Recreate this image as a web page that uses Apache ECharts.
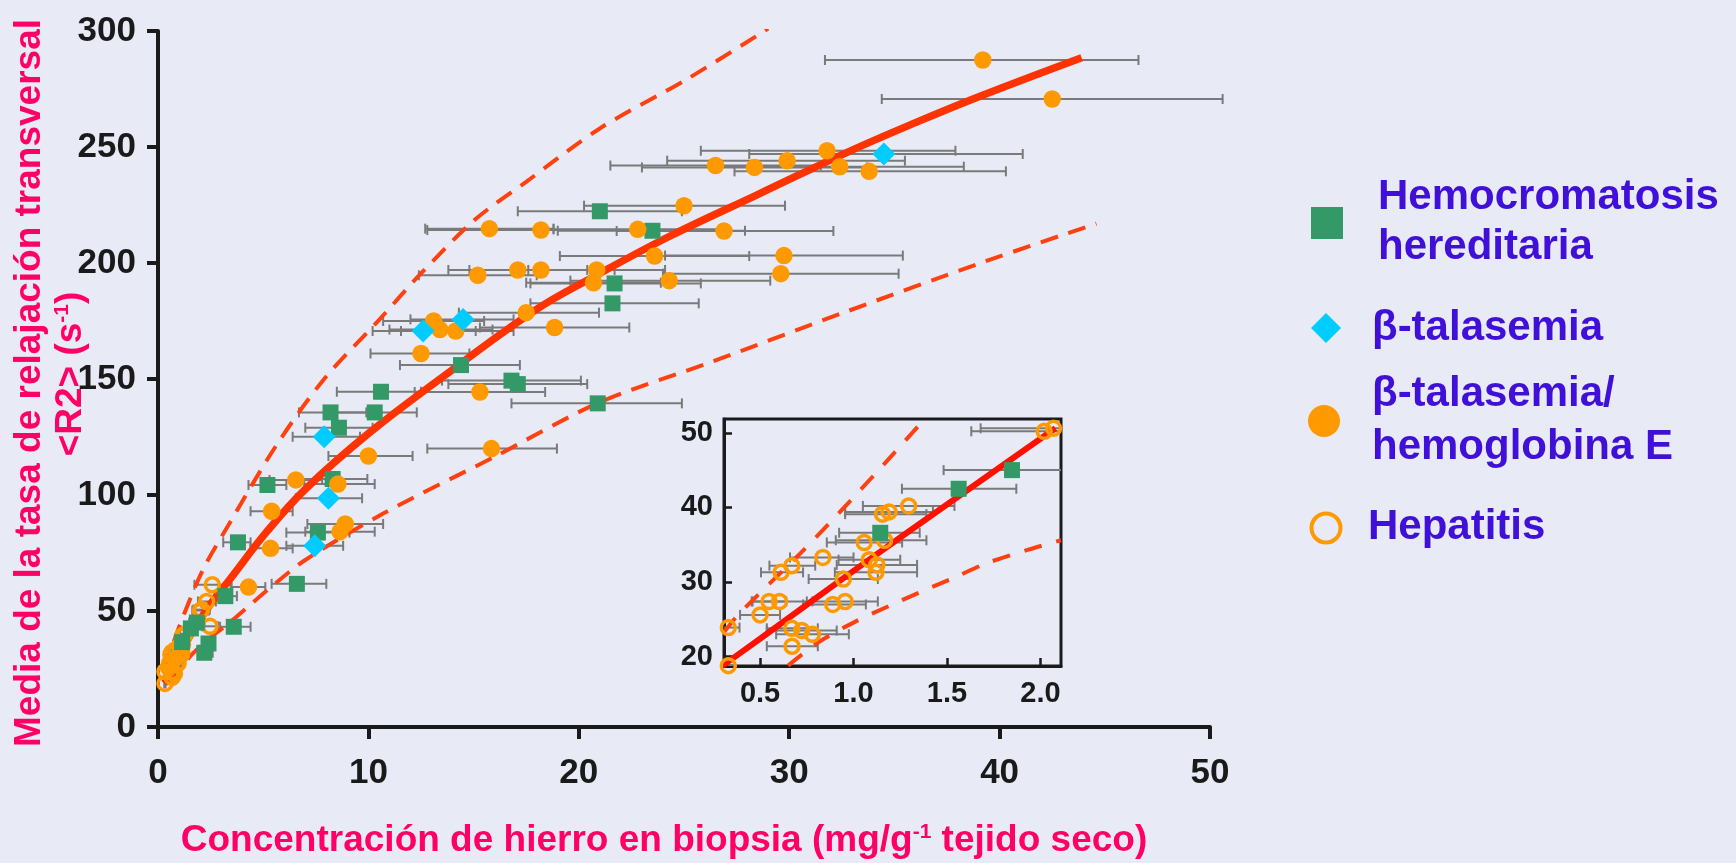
<!DOCTYPE html>
<html>
<head>
<meta charset="utf-8">
<script src="https://cdn.jsdelivr.net/npm/echarts@6/dist/echarts.min.js"></script>
<style>
html,body{margin:0;padding:0;background:#e8ebf6;}
#c{width:1736px;height:863px;}
</style>
</head>
<body>
<div id="c"></div>
<script>
// ---------- DATA (x, y, errorLow, errorHigh) ----------
const hemoMain = [
  [21.0,222.3,17.1,24.9],[23.5,213.9,19.0,27.9],[21.7,191.2,17.7,25.8],[21.6,182.6,17.7,25.7],
  [14.4,156.0,11.5,17.2],[16.8,149.3,13.5,20.1],[17.1,147.8,13.8,20.4],[20.9,139.5,16.8,24.9],
  [10.6,144.5,8.5,12.5],[8.2,135.6,6.7,9.9],[10.3,135.6,8.5,12.3],[8.6,129.0,7.0,10.2],
  [5.2,104.3,4.3,6.1],[8.3,106.9,6.7,9.95],[7.6,83.8,6.1,9.1],[3.8,79.6,3.1,4.4],
  [6.6,61.7,5.4,8.0],[3.2,56.4,2.7,3.75],[3.6,43.2,2.95,4.4],[2.4,36.0,2.1,2.7],[2.2,32.0,1.9,2.6]
];
const hemoInset = [[1.143,36.6,0.923,1.354],[1.5625,42.5,1.259,1.871],[1.848,45.0,1.482,2.21]];
const betaTal = [
  [34.5,247.0,28.1,41.1],[14.5,175.7,12.0,16.9],[12.6,170.7,10.2,15.1],
  [7.9,125.1,6.4,9.6],[8.1,98.6,6.55,9.7],[7.45,78.1,6.1,8.8]
];
const betaHbE = [
  [39.2,287.5,31.7,46.6],[42.5,270.7,34.4,50.6],[31.8,248.4,25.8,37.9],[26.5,242.0,21.5,31.5],
  [28.35,241.2,23.0,33.7],[29.9,244.1,24.2,35.5],[32.4,241.5,26.4,38.3],[33.8,239.5,27.4,40.3],
  [25.0,224.7,20.25,29.8],[15.75,214.8,12.7,18.8],[18.2,214.2,12.8,23.6],[22.8,214.5,18.8,26.8],
  [26.9,213.8,21.8,32.1],[23.6,203.0,19.1,28.1],[29.75,203.2,24.1,35.4],[15.2,194.7,12.4,18.0],
  [17.1,197.0,13.8,20.4],[18.2,197.0,14.8,21.7],[20.85,197.0,17.6,24.1],[20.7,191.5,17.5,23.9],
  [24.3,192.4,19.6,29.1],[29.6,195.4,24.0,35.2],[17.5,178.6,14.3,20.96],[13.1,175.0,10.7,15.5],
  [13.4,171.3,11.0,15.9],[14.15,170.7,11.55,16.9],[18.85,172.2,15.3,22.4],[12.5,161.0,10.1,14.8],
  [15.3,144.4,12.2,18.4],[15.85,120.0,12.8,18.96],[10.0,116.8,8.1,12.1],[6.55,106.5,5.3,7.8],
  [8.55,104.7,6.95,10.3],[5.4,93.0,4.4,6.4],[8.9,87.5,7.1,10.7],[8.65,84.2,7.0,10.3],
  [5.35,77.0,4.4,6.4],[4.3,60.3,3.5,5.1]
];
const hepMain = [[2.58,61.3,1.73,3.45],[2.31,54.1,1.9,2.75],[2.47,43.4,2.1,2.85]];
const hepInset = [
  [2.02,50.2,1.63,2.42],[2.07,50.6,1.68,2.46],[1.295,40.2,1.05,1.54],[1.155,39.1,0.955,1.39],
  [1.19,39.4,0.955,1.425],[1.057,35.3,0.857,1.26],[1.166,35.6,0.905,1.39],[1.084,33.0,0.92,1.25],
  [1.125,32.3,0.91,1.34],[1.12,31.3,0.9,1.34],[0.836,33.3,0.66,1.0],[0.67,32.2,0.55,0.795],
  [0.612,31.3,0.505,0.73],[0.946,30.4,0.76,1.13],[0.548,27.4,0.455,0.64],[0.604,27.4,0.46,0.75],
  [0.889,27.0,0.73,1.066],[0.955,27.4,0.78,1.13],[0.5,25.6,0.393,0.607],[0.33,23.9,0.3,0.39],
  [0.67,23.8,0.536,0.809],[0.723,23.5,0.536,0.91],[0.78,23.0,0.586,0.975],[0.671,21.4,0.536,0.809],
  [0.33,18.8,0.3,0.36]
];
// calibration curve and limits
const fitMain = [[0.3,18.8],[0.5,21.5],[1,31],[1.6,40.5],[2.5,53],[3.4,63.5],[5.2,84.5],[7,102.5],[10,126.5],
  [13.4,150],[17.9,179.5],[20.8,194.5],[24.2,211],[28.5,229.5],[32.7,247.5],[36,260.5],[39.1,272],[43.9,288.5]];
const upperMain = [[0.3,25],[1.04,44],[2.13,67.7],[3.4,87.8],[5.58,120.8],[7.86,149.6],[10.5,175.4],
  [12.5,195.5],[15.04,218.5],[17.5,235],[21.0,258],[25.08,278.9],[29.0,301]];
const lowerMain = [[0.65,19],[1.2,27],[2.1,35.6],[3.4,45],[5.2,59],[7.0,72],[10.7,92],[16,116.5],
  [21,140],[26.35,157.5],[32.7,179],[39.1,200],[44.6,217]];
const fitInset = [[0.3,18.8],[0.5,22.4],[1.0,31.5],[1.5,40.4],[2.08,50.6]];
const upperInset = [[0.307,23.3],[0.39,25.8],[0.714,33.8],[0.92,39.2],[1.16,45.7],[1.375,51.7]];
const lowerInset = [[0.65,18.8],[0.81,21.9],[1.01,24.7],[1.2,26.9],[1.38,28.9],[1.54,30.6],[1.71,32.5],[1.93,34.3],[2.11,35.6]];
const mainX = {min:0, max:50, interval:10};
const mainY = {min:0, max:300, interval:50};
const insetX = {min:0.307, max:2.11, step:0.5};
const insetY = {min:18.75, max:51.85, step:10};
const legendNames = ['Hemocromatosis', 'hereditaria', 'β-talasemia', 'β-talasemia/', 'hemoglobina E', 'Hepatitis'];

// ---------- STYLE ----------
const FONT = '"Liberation Sans", Arial, sans-serif';
const GREEN = '#339966', CYAN = '#00ccff', ORANGE = '#ff9900', INK = '#1a1a1a', PINK = '#ff0066', BLUE = '#4010d8';
const BG = '#e8ebf6';

function errRender(params, api) {
  const y = api.value(1);
  const p1 = api.coord([api.value(2), y]);
  const p2 = api.coord([api.value(3), y]);
  const h = 5;
  const st = {stroke: '#7a7a7a', lineWidth: 2};
  return {type: 'group', children: [
    {type: 'line', shape: {x1: p1[0], y1: p1[1], x2: p2[0], y2: p2[1]}, style: st},
    {type: 'line', shape: {x1: p1[0], y1: p1[1] - h, x2: p1[0], y2: p1[1] + h}, style: st},
    {type: 'line', shape: {x1: p2[0], y1: p2[1] - h, x2: p2[0], y2: p2[1] + h}, style: st}
  ]};
}

const mainLabel = {fontFamily: FONT, fontWeight: 'bold', fontSize: 35, color: INK};
const insetLabel = {fontFamily: FONT, fontWeight: 'bold', fontSize: 29, color: INK};

const option = {
  backgroundColor: BG,
  animation: false,
  grid: [
    {left: 158, top: 31, width: 1052, height: 696, show: false},
    {left: 724, top: 419, width: 337, height: 247, show: true, borderColor: INK, borderWidth: 3, backgroundColor: BG, z: 5}
  ],
  xAxis: [
    {gridIndex: 0, type: 'value', min: mainX.min, max: mainX.max, interval: mainX.interval,
      axisLine: {onZero: false, lineStyle: {color: INK, width: 4}},
      axisTick: {length: 12, lineStyle: {color: INK, width: 4}},
      axisLabel: Object.assign({margin: 29}, mainLabel), splitLine: {show: false}},
    {gridIndex: 1, type: 'value', min: insetX.min, max: insetX.max, minInterval: insetX.step, maxInterval: insetX.step, splitNumber: 4,
      axisLine: {onZero: false, lineStyle: {color: INK, width: 3}},
      axisTick: {inside: true, length: 8, lineStyle: {color: INK, width: 2.5}},
      axisLabel: Object.assign({margin: 13, showMinLabel: false, showMaxLabel: false, formatter: v => v.toFixed(1)}, insetLabel),
      splitLine: {show: false}, z: 6}
  ],
  yAxis: [
    {gridIndex: 0, type: 'value', min: mainY.min, max: mainY.max, interval: mainY.interval,
      axisLine: {show: true, onZero: false, lineStyle: {color: INK, width: 4}},
      axisTick: {show: true, length: 11, lineStyle: {color: INK, width: 4}},
      axisLabel: Object.assign({margin: 22}, mainLabel), splitLine: {show: false}},
    {gridIndex: 1, type: 'value', min: insetY.min, max: insetY.max, minInterval: insetY.step, maxInterval: insetY.step, splitNumber: 3,
      axisLine: {show: true, onZero: false, lineStyle: {color: INK, width: 3}},
      axisTick: {show: true, inside: true, length: 8, lineStyle: {color: INK, width: 2.5}},
      axisLabel: Object.assign({margin: 11, showMinLabel: false, showMaxLabel: false}, insetLabel),
      splitLine: {show: false}, z: 6}
  ],
  series: [
    // main chart
    {type: 'custom', xAxisIndex: 0, yAxisIndex: 0, z: 1, silent: true, renderItem: errRender,
      encode: {x: 0, y: 1}, data: hemoMain.concat(hemoInset, betaTal, betaHbE, hepMain, hepInset)},
    {type: 'line', xAxisIndex: 0, yAxisIndex: 0, z: 2, silent: true, showSymbol: false, smooth: 0.3,
      data: upperMain, lineStyle: {color: '#ff4010', width: 4, type: [18, 11]}},
    {type: 'line', xAxisIndex: 0, yAxisIndex: 0, z: 2, silent: true, showSymbol: false, smooth: 0.3,
      data: lowerMain, lineStyle: {color: '#ff4010', width: 4, type: [18, 11]}},
    {type: 'line', xAxisIndex: 0, yAxisIndex: 0, z: 2, silent: true, showSymbol: false, smooth: 0.4,
      data: fitMain, lineStyle: {color: '#ff3300', width: 7.5}},
    {type: 'scatter', xAxisIndex: 0, yAxisIndex: 0, z: 3, silent: true, symbol: 'circle', symbolSize: 14,
      data: hepInset.concat(hepMain), itemStyle: {color: 'rgba(0,0,0,0)', borderColor: ORANGE, borderWidth: 3.5, opacity: 1}},
    {type: 'scatter', xAxisIndex: 0, yAxisIndex: 0, z: 3, silent: true, symbol: 'rect', symbolSize: 16,
      data: hemoMain.concat(hemoInset), itemStyle: {color: GREEN, opacity: 1}},
    {type: 'scatter', xAxisIndex: 0, yAxisIndex: 0, z: 3, silent: true, symbol: 'circle', symbolSize: 17.5,
      data: betaHbE, itemStyle: {color: ORANGE, opacity: 1}},
    {type: 'scatter', xAxisIndex: 0, yAxisIndex: 0, z: 3, silent: true, symbol: 'diamond', symbolSize: 23,
      data: betaTal, itemStyle: {color: CYAN, opacity: 1}},
    // inset
    {type: 'custom', xAxisIndex: 1, yAxisIndex: 1, z: 7, silent: true, clip: true, renderItem: errRender,
      encode: {x: 0, y: 1}, data: hepInset.concat(hemoInset)},
    {type: 'line', xAxisIndex: 1, yAxisIndex: 1, z: 8, silent: true, showSymbol: false, smooth: 0.3, clip: true,
      data: upperInset, lineStyle: {color: '#ff4010', width: 4, type: [18, 15]}},
    {type: 'line', xAxisIndex: 1, yAxisIndex: 1, z: 8, silent: true, showSymbol: false, smooth: 0.3, clip: true,
      data: lowerInset, lineStyle: {color: '#ff4010', width: 4, type: [18, 15]}},
    {type: 'line', xAxisIndex: 1, yAxisIndex: 1, z: 8, silent: true, showSymbol: false, smooth: 0.3, clip: true,
      data: fitInset, lineStyle: {color: '#ff1000', width: 6}},
    {type: 'scatter', xAxisIndex: 1, yAxisIndex: 1, z: 9, silent: true, clip: false, symbol: 'circle', symbolSize: 14,
      data: hepInset, itemStyle: {color: 'rgba(0,0,0,0)', borderColor: ORANGE, borderWidth: 3.5, opacity: 1}},
    {type: 'scatter', xAxisIndex: 1, yAxisIndex: 1, z: 9, silent: true, clip: false, symbol: 'rect', symbolSize: 16,
      data: hemoInset, itemStyle: {color: GREEN, opacity: 1}}
  ],
  graphic: [
    {type: 'text', x: 664, y: 841, silent: true, style: {
      text: '{a|Concentración de hierro en biopsia (mg/g}{s|-1}{a| tejido seco)}',
      align: 'center', verticalAlign: 'middle',
      rich: {
        a: {fontFamily: FONT, fontWeight: 'bold', fontSize: 37, lineHeight: 38, fill: PINK, color: PINK},
        s: {fontFamily: FONT, fontWeight: 'bold', fontSize: 21, lineHeight: 21, fill: PINK, color: PINK, verticalAlign: 'top'}
      }}},
    {type: 'text', x: 30, y: 383, rotation: Math.PI / 2, silent: true, style: {
      text: 'Media de la tasa de relajación transversal', fill: PINK,
      font: 'bold 37px ' + FONT, align: 'center', verticalAlign: 'middle'}},
    {type: 'text', x: 71, y: 374, rotation: Math.PI / 2, silent: true, style: {
      text: '{a|<R2> (s}{s|-1}{a|)}', align: 'center', verticalAlign: 'middle',
      rich: {
        a: {fontFamily: FONT, fontWeight: 'bold', fontSize: 37, lineHeight: 38, fill: PINK, color: PINK},
        s: {fontFamily: FONT, fontWeight: 'bold', fontSize: 21, lineHeight: 21, fill: PINK, color: PINK, verticalAlign: 'top'}
      }}},
    // legend
    {type: 'rect', silent: true, shape: {x: 1311, y: 207, width: 32, height: 32}, style: {fill: GREEN}},
    {type: 'polygon', silent: true, shape: {points: [[1326, 313], [1341, 328], [1326, 343], [1311, 328]]}, style: {fill: CYAN}},
    {type: 'circle', silent: true, shape: {cx: 1324, cy: 421, r: 16}, style: {fill: ORANGE}},
    {type: 'circle', silent: true, shape: {cx: 1326, cy: 528, r: 14.5}, style: {fill: 'none', stroke: ORANGE, lineWidth: 4}},
    {type: 'text', x: 1378, y: 197, silent: true, style: {text: legendNames[0], fill: BLUE, font: 'bold 42px ' + FONT, verticalAlign: 'middle'}},
    {type: 'text', x: 1378, y: 247, silent: true, style: {text: legendNames[1], fill: BLUE, font: 'bold 42px ' + FONT, verticalAlign: 'middle'}},
    {type: 'text', x: 1372, y: 328, silent: true, style: {text: legendNames[2], fill: BLUE, font: 'bold 42px ' + FONT, verticalAlign: 'middle'}},
    {type: 'text', x: 1372, y: 394, silent: true, style: {text: legendNames[3], fill: BLUE, font: 'bold 42px ' + FONT, verticalAlign: 'middle'}},
    {type: 'text', x: 1372, y: 447, silent: true, style: {text: legendNames[4], fill: BLUE, font: 'bold 42px ' + FONT, verticalAlign: 'middle'}},
    {type: 'text', x: 1368, y: 527, silent: true, style: {text: legendNames[5], fill: BLUE, font: 'bold 42px ' + FONT, verticalAlign: 'middle'}}
  ]
};
const chart = echarts.init(document.getElementById('c'), null, {renderer: 'canvas'});
chart.setOption(option);
</script>
</body>
</html>
